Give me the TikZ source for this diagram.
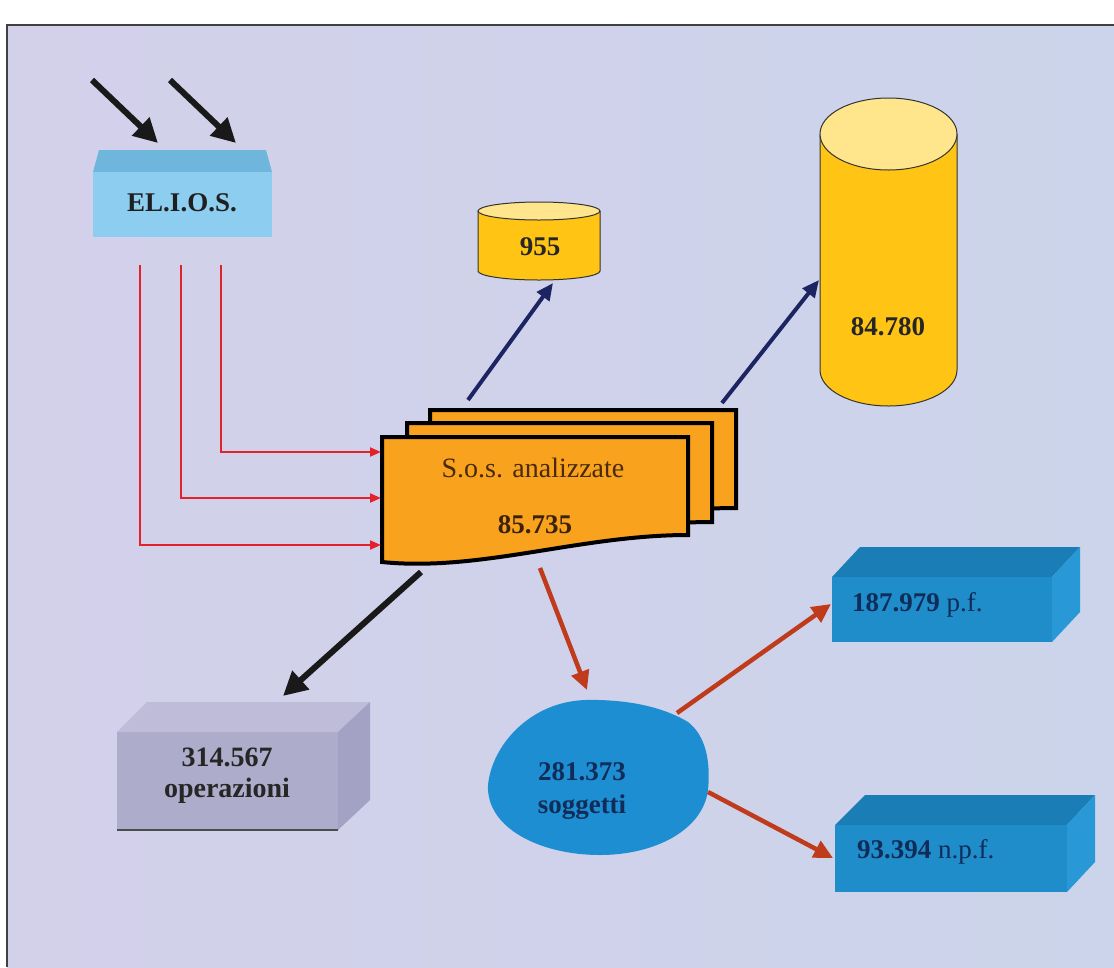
\documentclass[tikz,border=0pt]{standalone}
\usepackage{fontspec}
\setmainfont{Liberation Serif}
\usetikzlibrary{arrows.meta}
\definecolor{bgL}{HTML}{D3D0EA}
\definecolor{bgR}{HTML}{CBD4EA}
\definecolor{eliosFront}{HTML}{8DCDEF}
\definecolor{eliosTop}{HTML}{6FB6DC}
\definecolor{orangeDoc}{HTML}{F8A21E}
\definecolor{cylBody}{HTML}{FFC414}
\definecolor{cylTop}{HTML}{FFE58C}
\definecolor{greyFront}{HTML}{AEACCB}
\definecolor{greyTop}{HTML}{BEBCD8}
\definecolor{greySide}{HTML}{A4A2C4}
\definecolor{blueFront}{HTML}{1E8DCA}
\definecolor{blueTop}{HTML}{1A7DB6}
\definecolor{blueSide}{HTML}{2898D6}
\definecolor{blobBlue}{HTML}{1E8ED2}
\definecolor{navyTxt}{HTML}{102C58}
\definecolor{navyArrow}{HTML}{1C2462}
\definecolor{redLine}{HTML}{E2212B}
\definecolor{brownArrow}{HTML}{C03A1C}
\definecolor{docTxt}{HTML}{4A2A0C}
\begin{document}
\begin{tikzpicture}[x=1pt,y=-1pt,
  bigtxt/.style={font=\fontsize{27}{31}\selectfont\bfseries, text=black!85, inner sep=0pt},
  bluetxt/.style={font=\fontsize{27}{31}\selectfont, text=navyTxt, inner sep=0pt, anchor=west},
  blackarrow/.style={line width=6pt, draw=black!90, -{Triangle[length=24pt,width=24pt]}},
  navyarrow/.style={line width=4pt, draw=navyArrow, -{Triangle[length=17pt,width=15pt]}},
  redarrow/.style={line width=2pt, draw=redLine, -{Triangle[length=11pt,width=9pt]}},
  brownarrowst/.style={line width=4.5pt, draw=brownArrow, -{Triangle[length=19pt,width=18pt]}},
  docshape/.style={fill=orangeDoc, draw=black, line width=4pt, line join=miter},
  cyl/.style={draw=black!80, line width=1pt}]
\useasboundingbox (0,0) rectangle (1114,967);
\fill[white] (0,0) rectangle (1114,967);
\shade[left color=bgL, right color=bgR] (7,25) rectangle (1114,967);
\draw[black!75, line width=1.2pt] (7,967) -- (7,25) -- (1114,25);

% ---------- EL.I.O.S. box
\fill[eliosTop] (93,172) -- (99,150) -- (266,150) -- (272,172) -- cycle;
\node[fill=eliosFront, minimum width=179pt, minimum height=65pt, inner sep=0pt] (elios) at (182.5,204.5) {};
\node[bigtxt, text=black!88] (eliosT) at (182,203) {EL.I.O.S.};

% incoming black arrows
\coordinate (in1s) at (92,80);
\coordinate (in1e) at (158,143);
\coordinate (in2s) at (170,80);
\coordinate (in2e) at (236,143);
\draw[blackarrow] (in1s) -- (in1e);
\draw[blackarrow] (in2s) -- (in2e);

% ---------- document stack
\draw[docshape] (430,410) -- (736,410) -- (736,508) .. controls (628,508) and (528,541) .. (430,535) -- cycle;
\draw[docshape] (407,423) -- (712,423) -- (712,522) .. controls (604,522) and (504,555) .. (407,549) -- cycle;
\draw[docshape] (382,437) -- (688,437) -- (688,535) .. controls (580,535) and (480,572) .. (382,562) -- cycle;
\node[font=\fontsize{28}{32}\selectfont, text=docTxt, inner sep=0pt] (sosT) at (533,468) {S.o.s. analizzate};
\node[bigtxt, text=docTxt!80!black] (sosN) at (535,525) {85.735};

% red lines from EL.I.O.S.
\coordinate (r1s) at (140,265);
\coordinate (r2s) at (181,265);
\coordinate (r3s) at (221,265);
\coordinate (r1e) at (381,545);
\coordinate (r2e) at (381,498);
\coordinate (r3e) at (381,452);
\draw[redarrow] (r1s) |- (r1e);
\draw[redarrow] (r2s) |- (r2e);
\draw[redarrow] (r3s) |- (r3e);

% ---------- small cylinder 955
\fill[cylBody] (478,211) -- (478,271) arc[start angle=180, end angle=0, x radius=61, y radius=9] -- (600,211) -- cycle;
\draw[cyl] (478,211) -- (478,271) arc[start angle=180, end angle=0, x radius=61, y radius=9] -- (600,211);
\draw[cyl, fill=cylTop] (539,211) ellipse[x radius=61, y radius=9];
\node[bigtxt] (n955) at (540,247) {955};

% ---------- big cylinder 84.780
\fill[cylBody] (820,134) -- (820,370) arc[start angle=180, end angle=0, x radius=68.5, y radius=36] -- (957,134) -- cycle;
\draw[cyl] (820,134) -- (820,370) arc[start angle=180, end angle=0, x radius=68.5, y radius=36] -- (957,134);
\draw[cyl, fill=cylTop] (888.5,134) ellipse[x radius=68.5, y radius=36];
\node[bigtxt] (n84780) at (888,327) {84.780};

% navy arrows
\coordinate (nv1s) at (468,400);
\coordinate (nv1e) at (553,283);
\coordinate (nv2s) at (722,403);
\coordinate (nv2e) at (819,280);
\draw[navyarrow] (nv1s) -- (nv1e);
\draw[navyarrow] (nv2s) -- (nv2e);

% ---------- grey box
\fill[greyTop] (117,732) -- (147,702) -- (370,702) -- (338,732) -- cycle;
\fill[greySide] (338,732) -- (370,702) -- (370,800) -- (338,830) -- cycle;
\fill[greyFront] (117,732) rectangle (338,830);
\draw[black!70, line width=1.2pt] (117,830) -- (338,830);
\node[bigtxt, align=center, font=\fontsize{28}{31}\selectfont\bfseries] (ops) at (227,776) {314.567\\operazioni};

\coordinate (bks) at (421,572);
\coordinate (bke) at (283,696);
\draw[blackarrow] (bks) -- (bke);

% ---------- blob
\fill[blobBlue] (488,785) .. controls (492,745) and (530,702) .. (585,700)
  .. controls (630,699) and (665,708) .. (688,722)
  .. controls (705,735) and (711,760) .. (708,790)
  .. controls (703,830) and (655,855) .. (600,855)
  .. controls (540,855) and (486,828) .. (488,785) -- cycle;
\node[bigtxt, text=navyTxt, align=center, font=\fontsize{27}{33}\selectfont\bfseries] (blob) at (582,791) {281.373\\soggetti};

\coordinate (brs) at (540,568);
\coordinate (bre) at (587,690);
\draw[brownarrowst] (brs) -- (bre);

% ---------- blue boxes
\fill[blueTop] (832,577) -- (860,547) -- (1080,547) -- (1052,577) -- cycle;
\fill[blueSide] (1052,577) -- (1080,547) -- (1080,612) -- (1052,642) -- cycle;
\fill[blueFront] (832,577) rectangle (1052,642);
\node[bluetxt] (pf) at (852,605) {\textbf{187.979} p.f.};

\fill[blueTop] (835,825) -- (865,795) -- (1095,795) -- (1067,825) -- cycle;
\fill[blueSide] (1067,825) -- (1095,795) -- (1095,862) -- (1067,892) -- cycle;
\fill[blueFront] (835,825) rectangle (1067,892);
\node[bluetxt] (npf) at (857,852) {\textbf{93.394} n.p.f.};

\coordinate (b1s) at (677,713);
\coordinate (b1e) at (831,604);
\coordinate (b2s) at (708,792);
\coordinate (b2e) at (833,858);
\draw[brownarrowst] (b1s) -- (b1e);
\draw[brownarrowst] (b2s) -- (b2e);
\end{tikzpicture}
\end{document}
